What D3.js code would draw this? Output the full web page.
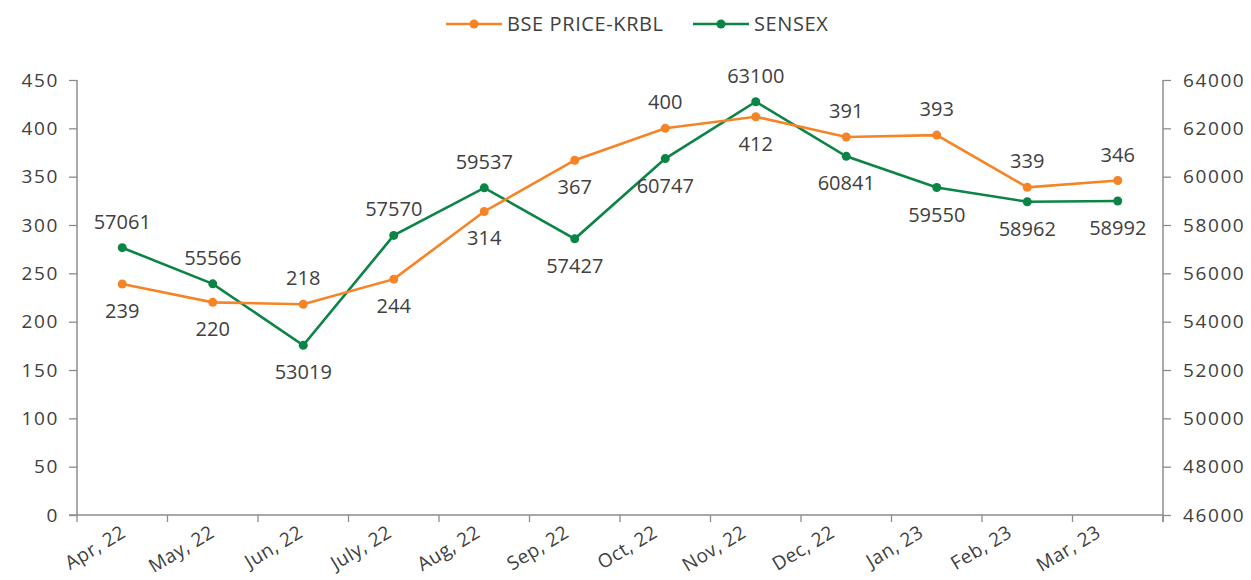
<!DOCTYPE html>
<html>
<head>
<meta charset="utf-8">
<script src="https://cdn.jsdelivr.net/npm/d3@7"></script>
<style>
  body { margin: 0; background: #fff; }
  text { font-family: "Open Sans", sans-serif; fill: #404040; }
</style>
</head>
<body>
<svg width="1251" height="580"></svg>
<script>
var months = ["Apr, 22","May, 22","Jun, 22","July, 22","Aug, 22","Sep, 22","Oct, 22","Nov, 22","Dec, 22","Jan, 23","Feb, 23","Mar, 23"];
var krbl = [239,220,218,244,314,367,400,412,391,393,339,346];
var sensex = [57061,55566,53019,57570,59537,57427,60747,63100,60841,59550,58962,58992];
var krblPos = ["b","b","a","b","b","b","a","b","a","a","a","a"];
var sensexPos = ["a","a","b","a","a","b","b","a","b","b","b","b"];
var leftTicks = [0,50,100,150,200,250,300,350,400,450];
var rightTicks = [46000,48000,50000,52000,54000,56000,58000,60000,62000,64000];

var orange = "#f58426", green = "#0b8446", axisCol = "#8c8c8c";
var svg = d3.select("svg");

var x = d3.scaleBand().domain(months).range([77, 1163]);
// month labels sit a little tighter than the bands
var xLab = d3.scalePoint().domain(months).range([127, 1102]);
var yL = d3.scaleLinear().domain([0,450]).range([515, 80]);
var yR = d3.scaleLinear().domain([46000,64000]).range([515, 80]);

var gl = svg.append("g").attr("transform","translate(77,0)")
  .call(d3.axisLeft(yL).tickValues(leftTicks).tickSize(8).tickPadding(10));
var gr = svg.append("g").attr("transform","translate(1163,0)")
  .call(d3.axisRight(yR).tickValues(rightTicks).tickSize(8).tickPadding(12).tickFormat(d3.format("d")));
var gx = svg.append("g").attr("transform","translate(0,515)")
  .call(d3.axisBottom(x).tickSize(0).tickFormat(""));
gx.selectAll(".btick").data(d3.range(months.length+1)).enter().append("line")
  .attr("x1", function(i){ return 77 + i*x.bandwidth(); })
  .attr("x2", function(i){ return 77 + i*x.bandwidth(); })
  .attr("y1", 0).attr("y2", 7).attr("stroke", axisCol).attr("stroke-width", 1.3);
[gl, gr, gx].forEach(function(g){
  g.select(".domain").attr("stroke", axisCol).attr("stroke-width", 1.5);
  g.selectAll(".tick line").attr("stroke", axisCol).attr("stroke-width", 1.3);
  g.selectAll("text").style("font-size","19px").attr("fill","#404040").style("letter-spacing","1.6px");
});
gl.select(".domain").attr("d","M0,515V80");
gr.select(".domain").attr("d","M0,522V80");
gx.select(".domain").attr("d","M69,0H1163");

// x labels
svg.append("g").selectAll("text").data(months).enter().append("text")
  .attr("transform", function(d){ return "translate(" + xLab(d) + ",536) rotate(-31)"; })
  .attr("text-anchor","end")
  .style("font-size","19px").style("letter-spacing","0.5px")
  .text(function(d){ return d; });

function drawSeries(vals, y, col, pos) {
  var line = d3.line().x(function(d,i){ return x(months[i]) + x.bandwidth()/2; }).y(function(d){ return y(d); });
  svg.append("path").datum(vals).attr("d", line).attr("fill","none").attr("stroke", col).attr("stroke-width", 2.6);
  svg.append("g").selectAll("circle").data(vals).enter().append("circle")
    .attr("cx", function(d,i){ return x(months[i]) + x.bandwidth()/2; })
    .attr("cy", function(d){ return y(d); })
    .attr("r", 4.5).attr("fill", col);
  svg.append("g").selectAll("text").data(vals).enter().append("text")
    .attr("x", function(d,i){ return x(months[i]) + x.bandwidth()/2; })
    .attr("y", function(d,i){ return pos[i] == "a" ? y(d) - 19 : y(d) + 34; })
    .attr("text-anchor","middle")
    .style("font-size","20px")
    .text(function(d){ return d; });
}
drawSeries(sensex, yR, green, sensexPos);
drawSeries(krbl, yL, orange, krblPos);

// legend
var legend = [["BSE PRICE-KRBL", orange, 446], ["SENSEX", green, 693]];
legend.forEach(function(l){
  var g = svg.append("g").attr("transform","translate(" + l[2] + ",24)");
  g.append("line").attr("x1",0).attr("x2",56).attr("stroke",l[1]).attr("stroke-width",2.6);
  g.append("circle").attr("cx",28).attr("r",4.5).attr("fill",l[1]);
  g.append("text").attr("x",61).attr("y",7).style("font-size","20px").style("letter-spacing","0.6px").text(l[0]);
});
</script>
</body>
</html>
